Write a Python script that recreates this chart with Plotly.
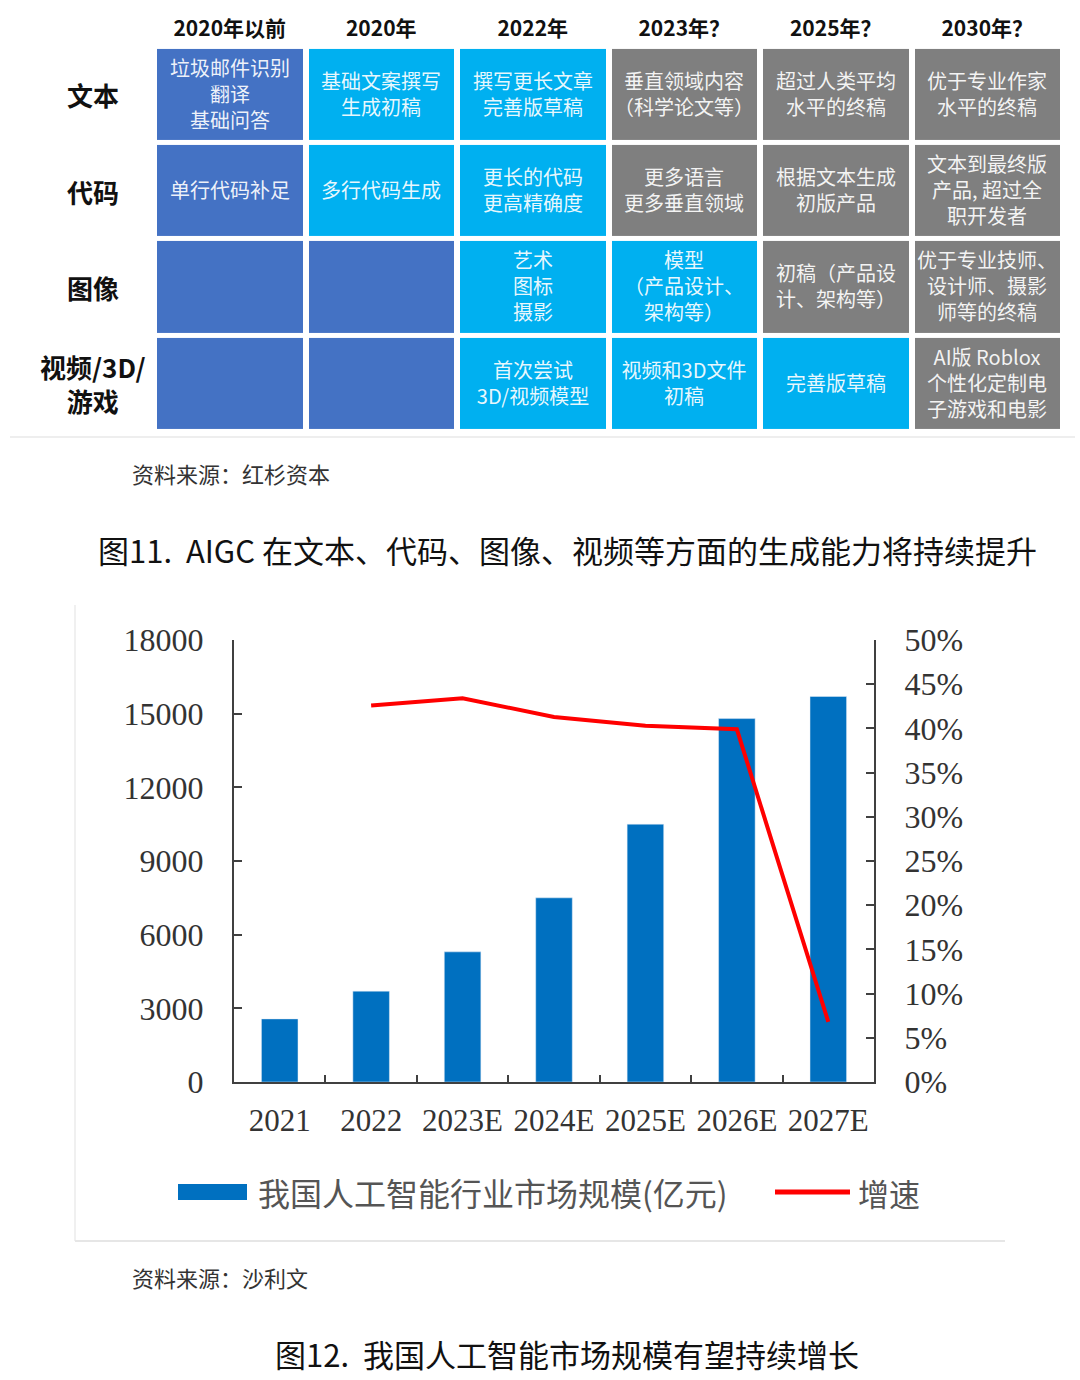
import plotly.graph_objects as go

# ========== 图11 表格数据 ==========
columns = ["2020年以前", "2020年", "2022年", "2023年？", "2025年？", "2030年？"]
rows = ["文本", "代码", "图像", "视频/3D/<br>游戏"]
cell_text = [
    ["垃圾邮件识别<br>翻译<br>基础问答", "基础文案撰写<br>生成初稿", "撰写更长文章<br>完善版草稿",
     "垂直领域内容<br>（科学论文等）", "超过人类平均<br>水平的终稿", "优于专业作家<br>水平的终稿"],
    ["单行代码补足", "多行代码生成", "更长的代码<br>更高精确度",
     "更多语言<br>更多垂直领域", "根据文本生成<br>初版产品", "文本到最终版<br>产品, 超过全<br>职开发者"],
    ["", "", "艺术<br>图标<br>摄影",
     "模型<br>（产品设计、<br>架构等）", "初稿（产品设<br>计、架构等）", "优于专业技师、<br>设计师、摄影<br>师等的终稿"],
    ["", "", "首次尝试<br>3D/视频模型",
     "视频和3D文件<br>初稿", "完善版草稿", "AI版 Roblox<br>个性化定制电<br>子游戏和电影"],
]
# 0=已实现(深蓝) 1=当前(浅蓝) 2=预期(灰)
cell_level = [
    [0, 1, 1, 2, 2, 2],
    [0, 1, 1, 2, 2, 2],
    [0, 0, 1, 1, 2, 2],
    [0, 0, 1, 1, 1, 2],
]

# ========== 图12 柱线图数据 ==========
years = ["2021", "2022", "2023E", "2024E", "2025E", "2026E", "2027E"]
market_size = [2570, 3700, 5300, 7500, 10500, 14800, 15700]   # 亿元
growth = [None, 0.426, 0.434, 0.413, 0.403, 0.399, 0.068]

W, H = 1080, 1380
CJK = "Noto Sans CJK SC"
SERIF = "Liberation Serif"
DARK, LIGHT, GRAY = "#4472C4", "#00B0F0", "#7F7F7F"
BAR_BLUE = "#0070C0"
RED = "#FF0000"


def px_x(v):
    return v / W


def px_y(v):
    return 1 - v / H


fig = go.Figure()

fig.add_trace(go.Heatmap(
    x=columns, y=rows, z=cell_level, text=cell_text, texttemplate="%{text}",
    textfont=dict(family=CJK, size=20, color="rgba(255,255,255,0.92)"),
    colorscale=[[0, DARK], [0.333, DARK], [0.333, LIGHT], [0.667, LIGHT], [0.667, GRAY], [1, GRAY]],
    zmin=0, zmax=2, showscale=False, xgap=6, ygap=5, hoverinfo="skip",
    xaxis="x", yaxis="y",
))

fig.add_trace(go.Bar(
    x=years, y=market_size, name="我国人工智能行业市场规模(亿元)",
    marker_color=BAR_BLUE, width=0.4, xaxis="x2", yaxis="y2",
))
fig.add_trace(go.Scatter(
    x=years, y=growth, name="增速", mode="lines",
    line=dict(color=RED, width=4), xaxis="x2", yaxis="y3",
))

axis_col = "#404040"
tick_font = dict(family=SERIF, size=32, color="#333333")

fig.update_layout(
    width=W, height=H, margin=dict(l=0, r=0, t=0, b=0, autoexpand=False),
    paper_bgcolor="white", plot_bgcolor="white", showlegend=False,
    xaxis=dict(domain=[px_x(154), px_x(1063)], anchor="y", side="top",
               showgrid=False, zeroline=False, ticks="", ticklabelstandoff=6,
               tickfont=dict(family=CJK, size=21, color="#111111", weight="bold")),
    yaxis=dict(domain=[px_y(431.6), px_y(46.9)], anchor="x", autorange="reversed",
               showgrid=False, zeroline=False, showticklabels=False),
    xaxis2=dict(domain=[px_x(234), px_x(874)], anchor="y2", range=[-0.5, 6.5],
                showline=True, linecolor=axis_col, linewidth=2, ticks="inside",
                tickson="boundaries", ticklen=7, tickcolor=axis_col, tickwidth=2,
                showgrid=False, tickangle=0, ticklabelstandoff=10,
                tickfont=dict(family=SERIF, size=31, color="#333333")),
    yaxis2=dict(domain=[px_y(1082), px_y(640)], anchor="x2", range=[0, 18000], dtick=3000,
                tickformat="d", showline=True, linecolor=axis_col, linewidth=2, ticks="inside",
                ticklen=8, tickcolor=axis_col, tickwidth=2, showgrid=False, zeroline=False,
                tickfont=tick_font, ticklabelstandoff=22),
    yaxis3=dict(overlaying="y2", side="right", anchor="x2", range=[0, 0.5], dtick=0.05,
                tickformat=".0%", showline=True, linecolor=axis_col, linewidth=2,
                ticks="inside", ticklen=8, tickcolor=axis_col, tickwidth=2,
                showgrid=False, zeroline=False, tickfont=tick_font, ticklabelstandoff=22),
)

# 行标题
for i, r in enumerate(rows):
    fig.add_annotation(x=px_x(93), xref="paper", y=i, yref="y", text=r, showarrow=False,
                       font=dict(family=CJK, size=26, color="#111111", weight="bold"),
                       align="center", xanchor="center", yanchor="middle")

# 分隔线 / 图框
fig.add_shape(type="line", xref="paper", yref="paper", x0=px_x(10), x1=px_x(1075),
              y0=px_y(437), y1=px_y(437), line=dict(color="#EEEEEE", width=2))
fig.add_shape(type="line", xref="paper", yref="paper", x0=px_x(75), x1=px_x(75),
              y0=px_y(605), y1=px_y(1241), line=dict(color="#EBEBEB", width=1.5))
fig.add_shape(type="line", xref="paper", yref="paper", x0=px_x(75), x1=px_x(1005),
              y0=px_y(1241), y1=px_y(1241), line=dict(color="#E6E6E6", width=2))


def note(x, y, text, size, color="#333333", anchor="left"):
    fig.add_annotation(x=px_x(x), y=px_y(y), xref="paper", yref="paper", text=text,
                       showarrow=False, xanchor=anchor, yanchor="middle",
                       font=dict(family=CJK, size=size, color=color))


# 图例（手动）
fig.add_shape(type="rect", xref="paper", yref="paper", x0=px_x(178), x1=px_x(247),
              y0=px_y(1200), y1=px_y(1184), fillcolor=BAR_BLUE, line=dict(width=0))
note(256, 1192, "我国人工智能行业市场规模(亿元)", 32, "#555555")
fig.add_shape(type="line", xref="paper", yref="paper", x0=px_x(775), x1=px_x(850),
              y0=px_y(1192), y1=px_y(1192), line=dict(color=RED, width=5))
note(856, 1192, "增速", 31, "#555555")

# 资料来源与图题
note(130, 473, "资料来源：红杉资本", 22)
note(567, 549, "图11.  AIGC 在文本、代码、图像、视频等方面的生成能力将持续提升", 31, "#111111", "center")
note(130, 1277, "资料来源：沙利文", 22)
note(567, 1353, "图12.  我国人工智能市场规模有望持续增长", 31, "#111111", "center")

fig.write_html("out.html", config={"displayModeBar": False},
               post_script="document.body.style.margin='0';")
